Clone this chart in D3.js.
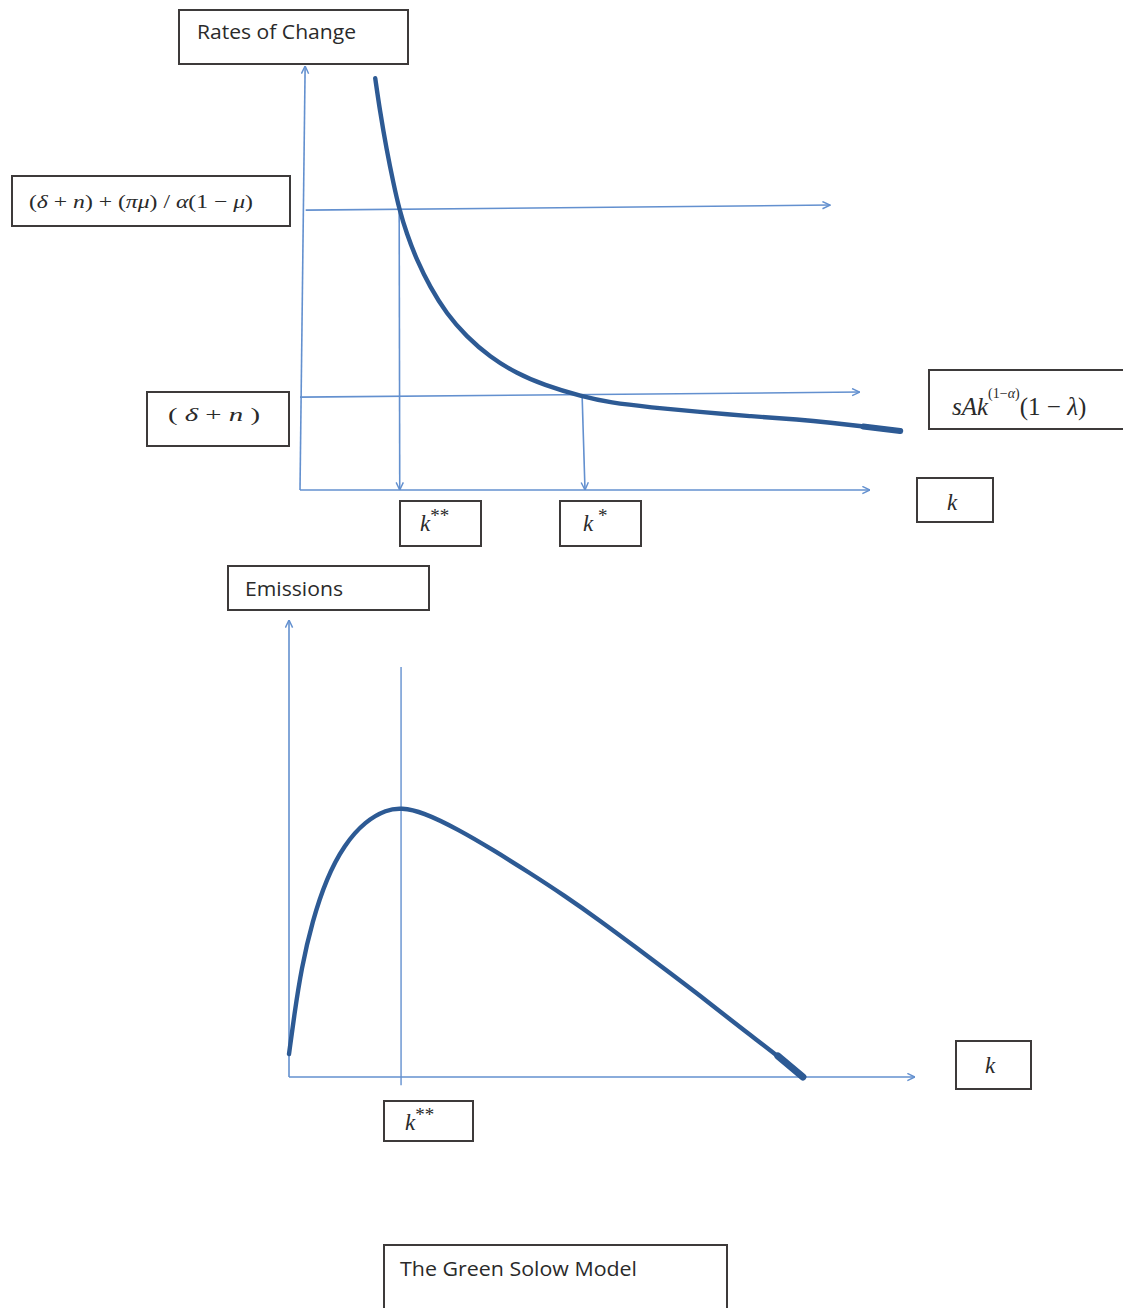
<!DOCTYPE html>
<html>
<head>
<meta charset="utf-8">
<script src="https://cdn.jsdelivr.net/npm/d3@7"></script>
<style>
  body { margin: 0; background: #fff; }
  svg { display: block; }
</style>
</head>
<body>
<svg id="main" width="1123" height="1308"></svg>
<script>
// top panel: rate of change curve sAk^(1-a)(1-l), k vs rate (arbitrary units 0..10)
var rateCurve = [
	[1.32, 9.71], [1.40, 8.96], [1.52, 8.02], [1.64, 7.23], [1.74, 6.63],
	[1.87, 6.05], [2.05, 5.42], [2.28, 4.79], [2.57, 4.16], [2.92, 3.62],
	[3.33, 3.14], [3.80, 2.75], [4.27, 2.48], [4.95, 2.20], [5.44, 2.06],
	[6.14, 1.95], [7.02, 1.84], [7.89, 1.74], [8.77, 1.66], [9.30, 1.59],
	[9.88, 1.50], [10.53, 1.39]
];
// horizontal levels: (delta+n)+(pi mu)/a(1-mu) and (delta+n), drawn slightly tilted
var upperLevel = [[0.10, 6.60], [9.30, 6.72]];
var lowerLevel = [[0.00, 2.19], [9.82, 2.31]];
// drop lines to k** and k*
var dropLines = [
	[[1.74, 6.63], [1.75, 0]],
	[[4.95, 2.20], [5.00, 0]]
];
var topAxisY = [[0, 0], [0.09, 10]];
var topAxisX = [[0, 0], [10, 0]];

// bottom panel: emissions vs k
var emissionsCurve = [
	[0, 0.50], [0.085, 1.37], [0.20, 2.39], [0.37, 3.40], [0.60, 4.35],
	[0.88, 5.08], [1.22, 5.60], [1.56, 5.85], [1.79, 5.89], [2.13, 5.80],
	[2.70, 5.42], [3.27, 4.96], [3.83, 4.48], [4.40, 3.97], [4.97, 3.42],
	[5.54, 2.84], [6.11, 2.25], [6.67, 1.67], [7.24, 1.05], [7.81, 0.46],
	[8.21, 0]
];
var kssLine = [[1.79, 8.97], [1.79, -0.18]];
var botAxisY = [[0, 0], [0, 10]];
var botAxisX = [[0, 0], [10, 0]];

var axisColor = '#6390cf';
var curveColor = '#2d5a94';
var boxColor = '#3d3a3a';
var textColor = '#2a2a2a';

var svg = d3.select('#main');
svg.append('rect').attr('width', 1123).attr('height', 1308).attr('fill', '#fff');

var defs = svg.append('defs');
defs.append('marker')
	.attr('id', 'arr')
	.attr('viewBox', '0 0 10 10')
	.attr('refX', 9.5)
	.attr('refY', 5)
	.attr('markerWidth', 9)
	.attr('markerHeight', 9)
	.attr('markerUnits', 'userSpaceOnUse')
	.attr('orient', 'auto')
	.append('path')
	.attr('d', 'M1,1 L9.5,5 L1,9')
	.attr('fill', 'none')
	.attr('stroke', axisColor)
	.attr('stroke-width', 1.6);

var xT = d3.scaleLinear().domain([0, 10]).range([300, 870]);
var yT = d3.scaleLinear().domain([0, 10]).range([490, 66]);
var xB = d3.scaleLinear().domain([0, 10]).range([289, 915]);
var yB = d3.scaleLinear().domain([0, 10]).range([1077, 620]);

function lineFor(x, y, curve) {
	var l = d3.line()
		.x(function(d) {return x(d[0]);})
		.y(function(d) {return y(d[1]);});
	if (curve) l.curve(curve);
	return l;
}

function thin(g, pts, x, y, arrow, w) {
	var p = g.append('path')
		.attr('d', lineFor(x, y)(pts))
		.attr('fill', 'none')
		.attr('stroke', axisColor)
		.attr('stroke-width', w || 1.6);
	if (arrow) p.attr('marker-end', 'url(#arr)');
	return p;
}

function box(x, y, w, h) {
	svg.append('rect')
		.attr('x', x).attr('y', y)
		.attr('width', w).attr('height', h)
		.attr('fill', '#fff')
		.attr('stroke', boxColor)
		.attr('stroke-width', 2);
}

function sansLabel(txt, x, y, len) {
	svg.append('text')
		.attr('x', x).attr('y', y)
		.attr('font-family', 'Open Sans, Noto Sans, sans-serif')
		.attr('font-size', 19.5)
		.attr('fill', textColor)
		.attr('textLength', len)
		.attr('lengthAdjust', 'spacingAndGlyphs')
		.text(txt);
}

// parts: [text, italic?, size, dy]
function mathLabel(parts, x, y, size, len) {
	var t = svg.append('text')
		.attr('x', x).attr('y', y)
		.attr('font-family', 'Liberation Serif, DejaVu Serif, serif')
		.attr('font-size', size)
		.attr('fill', textColor);
	if (len) t.attr('textLength', len).attr('lengthAdjust', 'spacingAndGlyphs');
	parts.forEach(function(p) {
		var s = t.append('tspan').text(p[0]);
		if (p[1]) s.attr('font-style', 'italic');
		if (p[2]) s.attr('font-size', p[2]);
		if (p[3] != null) s.attr('dy', p[3]);
	});
	return t;
}

// ---------- top panel ----------
var gTop = svg.append('g');
thin(gTop, topAxisY, xT, yT, true);
thin(gTop, topAxisX, xT, yT, true);
thin(gTop, upperLevel, xT, yT, true);
thin(gTop, lowerLevel, xT, yT, true);
dropLines.forEach(function(d) { thin(gTop, d, xT, yT, true); });

gTop.append('path')
	.attr('d', lineFor(xT, yT, d3.curveBasis)(rateCurve))
	.attr('fill', 'none')
	.attr('stroke', curveColor)
	.attr('stroke-width', 4.4)
	.attr('stroke-linecap', 'round');
// thick pen blob at the end of the curve
gTop.append('path')
	.attr('d', lineFor(xT, yT)(rateCurve.slice(-2)))
	.attr('stroke', curveColor)
	.attr('stroke-width', 6)
	.attr('stroke-linecap', 'round');

// ---------- bottom panel ----------
var gBot = svg.append('g');
thin(gBot, botAxisY, xB, yB, true);
thin(gBot, botAxisX, xB, yB, true);
thin(gBot, kssLine, xB, yB, false, 1.4);

gBot.append('path')
	.attr('d', lineFor(xB, yB, d3.curveBasis)(emissionsCurve))
	.attr('fill', 'none')
	.attr('stroke', curveColor)
	.attr('stroke-width', 4.4)
	.attr('stroke-linecap', 'round');
gBot.append('path')
	.attr('d', lineFor(xB, yB)(emissionsCurve.slice(-2)))
	.attr('stroke', curveColor)
	.attr('stroke-width', 7)
	.attr('stroke-linecap', 'round');

// ---------- label boxes ----------
box(179, 10, 229, 54);
sansLabel('Rates of Change', 197, 39, 159);

box(12, 176, 278, 50);
mathLabel([['('], ['δ', true], [' + '], ['n', true], [') + ('], ['πμ', true], [') / '], ['α', true], ['(1 − '], ['μ', true], [')']], 29, 208, 19, 224);

box(147, 392, 142, 54);
mathLabel([['( '], ['δ', true], ['  +  '], ['n', true], [' )']], 168, 421, 19, 92);

box(929, 370, 200, 59);
mathLabel([['sAk', true], ['(1−', false, 14, -17], ['α', true, 14], [')', false, 14], ['(1 − ', false, 25, 17], ['λ', true, 25], [')', false, 25]], 952, 415, 25);

box(400, 501, 81, 45);
mathLabel([['k', true, 23], ['**', false, 19, -9]], 420, 531, 23);

box(560, 501, 81, 45);
mathLabel([['k', true, 23], [' *', false, 19, -9]], 583, 531, 23);

box(917, 478, 76, 44);
mathLabel([['k', true]], 947, 510, 23);

box(228, 566, 201, 44);
sansLabel('Emissions', 245, 596, 98);

box(956, 1041, 75, 48);
mathLabel([['k', true]], 985, 1073, 23);

box(384, 1101, 89, 40);
mathLabel([['k', true, 23], ['**', false, 19, -9]], 405, 1130, 23);

box(384, 1245, 343, 70);
sansLabel('The Green Solow Model', 400, 1276, 237);
</script>
</body>
</html>
